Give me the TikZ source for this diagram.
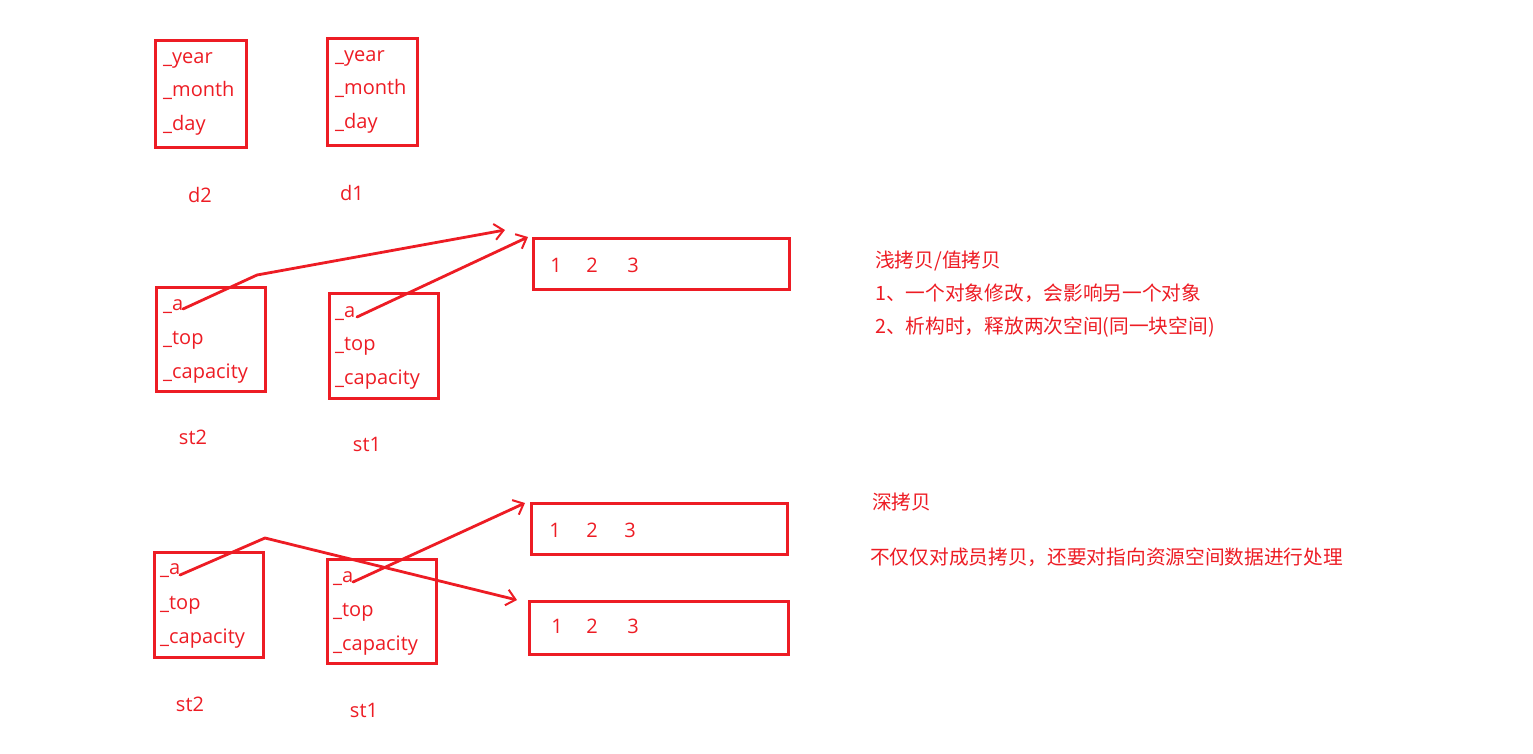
\documentclass[tikz,border=0pt]{standalone}
\usepackage{fontspec}
\setmainfont{Open Sans}
\newfontfamily\cjk{Noto Sans CJK SC}
\usetikzlibrary{arrows.meta}
\definecolor{pen}{RGB}{237,28,36}
\begin{document}
\begin{tikzpicture}[x=1pt,y=-1pt,
  box/.style={draw=pen, line width=3pt, inner sep=0pt},
  fld/.style={text=pen, font=\fontsize{20}{23}\selectfont, anchor=base west, inner sep=0pt},
  lbl/.style={text=pen, font=\fontsize{20}{23}\selectfont, anchor=base, inner sep=0pt},
  num/.style={text=pen, font=\fontsize{20}{23}\selectfont, anchor=base, inner sep=0pt},
  cn/.style={text=pen, font=\cjk\fontsize{19.7}{22}\selectfont, anchor=base west, inner sep=0pt},
  ptr/.style={draw=pen, line width=2.8pt, line cap=round, line join=round,
    -{Straight Barb[length=9pt,width=16pt,line width=2pt]}}]
\useasboundingbox (0,0) rectangle (1533,753);
% ---- dates ----
\node[box, minimum width=91pt, minimum height=107pt] (d2) at (200.5,93.5) {};
\node[fld] (d2y) at (163,63) {\_year};
\node[fld] (d2m) at (163,96) {\_month};
\node[fld] (d2d) at (163,130) {\_day};
\node[lbl] (d2l) at (200,202) {d2};
\node[box, minimum width=90pt, minimum height=107pt] (d1) at (372,91.5) {};
\node[fld] (d1y) at (335,61) {\_year};
\node[fld] (d1m) at (335,94) {\_month};
\node[fld] (d1d) at (335,128) {\_day};
\node[lbl] (d1l) at (352,200) {d1};
% ---- shallow copy ----
\node[box, minimum width=109pt, minimum height=104pt] (s2t) at (210.5,339) {};
\node[fld] (s2ta) at (163,310) {\_a};
\node[fld] (s2tt) at (163,344) {\_top};
\node[fld] (s2tc) at (163,378) {\_capacity};
\node[lbl] (s2tl) at (193,444) {st2};
\node[box, minimum width=109pt, minimum height=105pt] (s1t) at (383.5,345.5) {};
\node[fld] (s1ta) at (335,317) {\_a};
\node[fld] (s1tt) at (335,350) {\_top};
\node[fld] (s1tc) at (335,384) {\_capacity};
\node[lbl] (s1tl) at (367,451) {st1};
\node[box, minimum width=256pt, minimum height=51pt] (at) at (661,263.5) {};
\node[num] (at1) at (556,272) {1};
\node[num] (at2) at (592,272) {2};
\node[num] (at3) at (633,272) {3};
\coordinate (p1) at (183,309);
\coordinate (b1) at (257,275);
\coordinate (t1) at (505,230);
\coordinate (p2) at (357,317);
\coordinate (t2) at (528,237);
\draw[ptr] (p1) -- (b1) -- (t1);
\draw[ptr] (p2) -- (t2);
\node[cn] (h1) at (875,267) {浅拷贝/值拷贝};
\node[cn] (h2) at (875,300) {1、一个对象修改，会影响另一个对象};
\node[cn] (h3) at (875,333) {2、析构时，释放两次空间(同一块空间)};
% ---- deep copy ----
\node[box, minimum width=109pt, minimum height=105pt] (s2b) at (208.5,604.5) {};
\node[fld] (s2ba) at (160,574) {\_a};
\node[fld] (s2bt) at (160,609) {\_top};
\node[fld] (s2bc) at (160,643) {\_capacity};
\node[lbl] (s2bl) at (190,711) {st2};
\node[box, minimum width=109pt, minimum height=104pt] (s1b) at (381.5,611) {};
\node[fld] (s1ba) at (333,582) {\_a};
\node[fld] (s1bt) at (333,616) {\_top};
\node[fld] (s1bc) at (333,650) {\_capacity};
\node[lbl] (s1bl) at (364,717) {st1};
\node[box, minimum width=256pt, minimum height=51pt] (ab1) at (659,528.5) {};
\node[num] (ab11) at (555,537) {1};
\node[num] (ab12) at (592,537) {2};
\node[num] (ab13) at (630,537) {3};
\node[box, minimum width=259pt, minimum height=53pt] (ab2) at (658.5,627.5) {};
\node[num] (ab21) at (557,633) {1};
\node[num] (ab22) at (592,633) {2};
\node[num] (ab23) at (633,633) {3};
\coordinate (p3) at (180,575);
\coordinate (b3) at (265,538);
\coordinate (t3) at (517,600);
\coordinate (p4) at (353,582);
\coordinate (t4) at (525,503);
\draw[ptr] (p3) -- (b3) -- (t3);
\draw[ptr] (p4) -- (t4);
\node[cn] (k1) at (872,509) {深拷贝};
\node[cn] (k2) at (870,564) {不仅仅对成员拷贝，还要对指向资源空间数据进行处理};
\end{tikzpicture}
\end{document}
